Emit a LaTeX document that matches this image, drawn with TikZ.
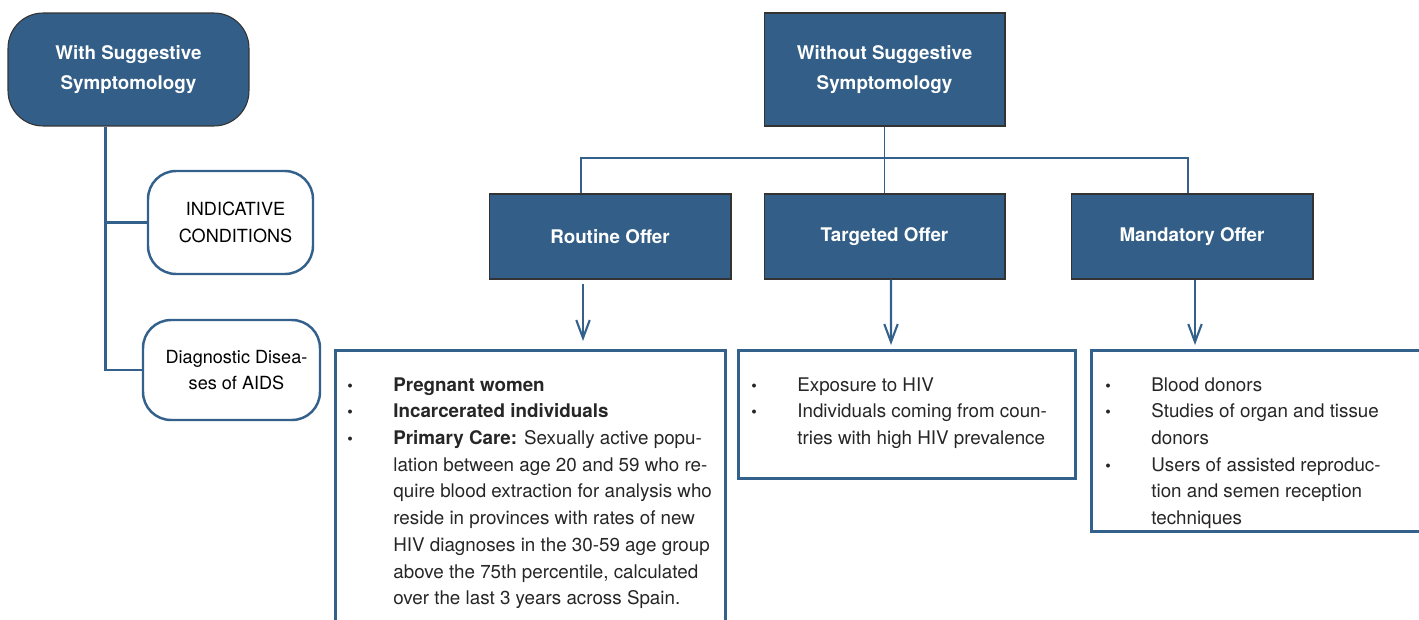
\documentclass[tikz,border=0pt]{standalone}
\usepackage{fontspec}
\setmainfont{TeX Gyre Heros}
\usepackage{xcolor}
\usepackage{tikz}
\usetikzlibrary{arrows.meta, positioning, calc}
\definecolor{hivblue}{RGB}{50,94,135}
\definecolor{lineblue}{RGB}{52,96,140}
\newcommand{\itm}[1]{\makebox[0.92cm][l]{\small\textbullet}#1}
\newcommand{\cnt}[1]{\hspace*{0.92cm}#1}
\tikzset{
  headbox/.style={rectangle, draw=black!80, line width=0.6pt, fill=hivblue,
              text=white, align=center, minimum width=4.82cm, minimum height=#1,
              font=\fontsize{10.7}{17}\selectfont\bfseries},
  headbox/.default=2.26cm,
  sidebox/.style={rectangle, draw=lineblue, line width=1.4pt, rounded corners=0.56cm,
              fill=white, align=center, font=\fontsize{10.3}{15.3}\selectfont},
  listbox/.style={rectangle, draw=lineblue, line width=1.5pt, anchor=north west},
  listtext/.style={anchor=north west, align=left, inner sep=0pt,
              font=\fontsize{10.7}{15.2}\selectfont, text=black!85},
  link/.style={draw=lineblue, line width=1.2pt},
  arrowlink/.style={link, -{Straight Barb[length=0.36cm, width=0.27cm, line width=1.2pt]}},
}

\begin{document}
\begin{tikzpicture}[x=0.02cm, y=-0.02cm]

\useasboundingbox (0,0) rectangle (1419,619);
\clip (0,0) rectangle (1419,619);

% ── left branch ───────────────────────────────────────────────────────────────
\node[headbox, rounded corners=0.7cm] (withsym) at (128.5,69.5)
  {With Suggestive\\Symptomology};
\node[sidebox, minimum width=3.3cm, minimum height=2.06cm] (indic) at (230.5,222.5)
  {\hspace*{0.2cm}INDICATIVE\\\hspace*{0.2cm}CONDITIONS};
\node[sidebox, minimum width=3.54cm, minimum height=2.0cm] (diagdis) at (231.5,370)
  {\hspace*{0.2cm}Diagnostic Disea-\\\hspace*{0.2cm}ses of AIDS};

\draw[link] ($(withsym.south)+(-23,0)$) |- (indic.west);
\draw[link] ($(withsym.south)+(-23,0)$) |- (diagdis.west);

% ── right branch ──────────────────────────────────────────────────────────────
\node[headbox] (withoutsym) at (884.5,69.5) {Without Suggestive\\Symptomology};

\node[headbox=1.7cm, minimum width=4.84cm] (routine)   at (610,236.5)  {Routine Offer};
\node[headbox=1.7cm]                       (targeted)  at (884.5,236.5) {Targeted Offer};
\node[headbox=1.7cm, minimum width=4.84cm] (mandatory) at (1192,236.5) {Mandatory Offer};

\coordinate (split) at (884,158);
\draw[link, line width=1pt] ($(routine.north)+(-29,0)$) |- (split) -| ($(mandatory.north)+(-4,0)$);
\draw[link, line width=1pt] (withoutsym.south) -- (targeted.north);

% ── lists ─────────────────────────────────────────────────────────────────────
\node[listbox, minimum width=7.8cm, minimum height=6.2cm]  (routinelist)   at (334,349)  {};
\node[listbox, minimum width=6.74cm, minimum height=2.56cm] (targetedlist) at (737,349)  {};
\node[listbox, minimum width=7.2cm, minimum height=3.62cm]  (mandatorylist) at (1090,349) {};

\draw[arrowlink] ($(routine.south)+(-27,4)$)  -- ($(routinelist.north west)+(249,-8)$);
\draw[arrowlink] ($(targeted.south)+(6.5,0)$) -- ($(targetedlist.north west)+(154,-4)$);
\draw[arrowlink] ($(mandatory.south)+(3,0)$)  -- ($(mandatorylist.north west)+(105,-4)$);

\node[listtext] (routinetext) at ($(routinelist.north west)+(13,28)$) {%
  \itm{\textbf{Pregnant women}}\\
  \itm{\textbf{Incarcerated individuals}}\\
  \itm{\textbf{Primary Care:} Sexually active popu-}\\
  \cnt{lation between age 20 and 59 who re-}\\
  \cnt{quire blood extraction for analysis who}\\
  \cnt{reside in provinces with rates of new}\\
  \cnt{HIV diagnoses in the 30-59 age group}\\
  \cnt{above the 75th percentile, calculated}\\
  \cnt{over the last 3 years across Spain.}};

\node[listtext] (targetedtext) at ($(targetedlist.north west)+(14,28)$) {%
  \itm{Exposure to HIV}\\
  \itm{Individuals coming from coun-}\\
  \cnt{tries with high HIV prevalence}};

\node[listtext] (mandatorytext) at ($(mandatorylist.north west)+(15,28)$) {%
  \itm{Blood donors}\\
  \itm{Studies of organ and tissue}\\
  \cnt{donors}\\
  \itm{Users of assisted reproduc-}\\
  \cnt{tion and semen reception}\\
  \cnt{techniques}};

\end{tikzpicture}
\end{document}
